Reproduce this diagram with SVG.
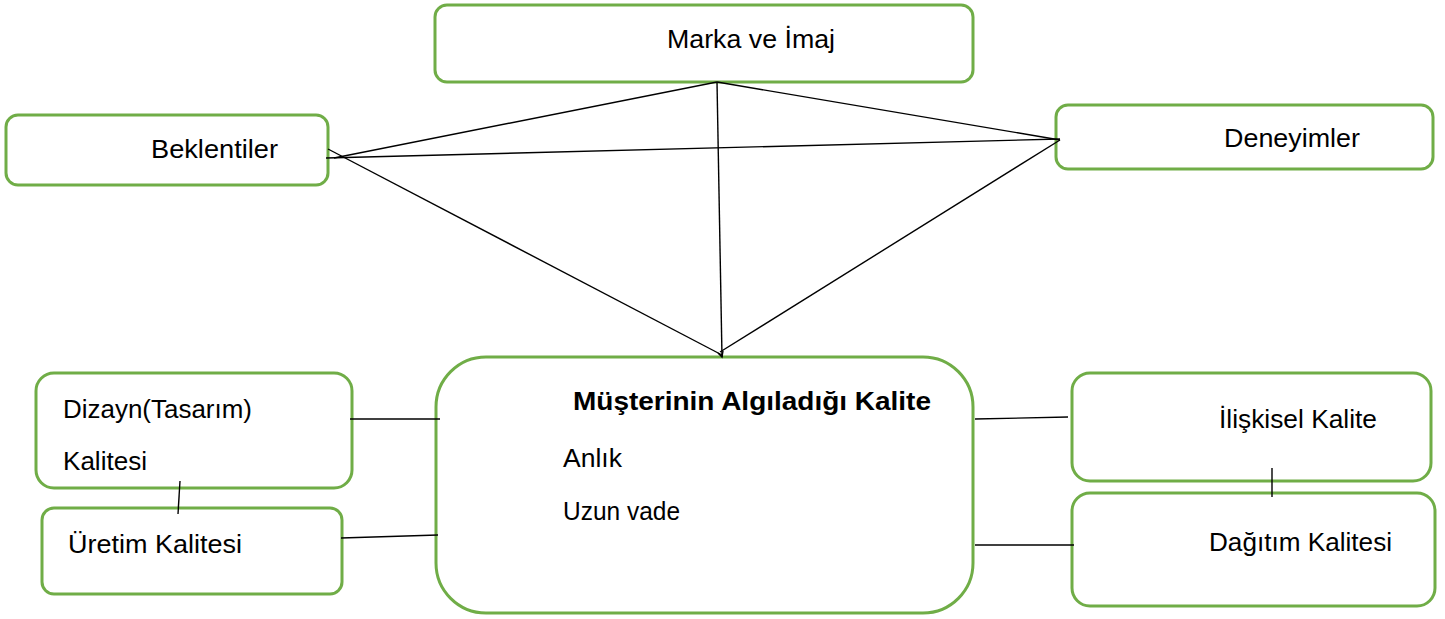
<svg xmlns="http://www.w3.org/2000/svg" width="1445" height="619" viewBox="0 0 1445 619">
  <style>
    .box { fill: #ffffff; stroke: #70AD47; stroke-width: 3; }
    .lbl { font-family: "Liberation Sans", Arial, sans-serif; font-size: 25px; fill: #000000; }
    .title { font-family: "Liberation Sans", Arial, sans-serif; font-size: 26px; font-weight: bold; fill: #000000; }
    .conn line, .conn polyline { stroke: #000000; stroke-width: 1.4; fill: none; }
  </style>
  <rect width="1445" height="619" fill="#ffffff"/>

  <g id="marka">
    <rect class="box" x="435" y="5" width="538" height="77" rx="12"/>
    <text class="lbl" x="667" y="48" textLength="168" lengthAdjust="spacingAndGlyphs">Marka ve İmaj</text>
  </g>

  <g id="beklentiler">
    <rect class="box" x="6" y="115" width="322" height="70" rx="12"/>
    <text class="lbl" x="151" y="158" textLength="127" lengthAdjust="spacingAndGlyphs">Beklentiler</text>
  </g>

  <g id="deneyimler">
    <rect class="box" x="1056" y="105" width="377" height="64" rx="12"/>
    <text class="lbl" x="1224" y="147" textLength="136" lengthAdjust="spacingAndGlyphs">Deneyimler</text>
  </g>

  <g id="musteri">
    <rect class="box" x="436" y="357" width="537" height="256" rx="50"/>
    <text class="title" x="573" y="410" textLength="358" lengthAdjust="spacingAndGlyphs">Müşterinin Algıladığı Kalite</text>
    <text class="lbl" x="563" y="467" textLength="59" lengthAdjust="spacingAndGlyphs">Anlık</text>
    <text class="lbl" x="563" y="520" textLength="117" lengthAdjust="spacingAndGlyphs">Uzun vade</text>
  </g>

  <g id="dizayn">
    <rect class="box" x="36" y="373" width="316" height="115" rx="18"/>
    <text class="lbl" x="63" y="418" textLength="189" lengthAdjust="spacingAndGlyphs">Dizayn(Tasarım)</text>
    <text class="lbl" x="63" y="470" textLength="84" lengthAdjust="spacingAndGlyphs">Kalitesi</text>
  </g>

  <g id="uretim">
    <rect class="box" x="42" y="508" width="300" height="86" rx="12"/>
    <text class="lbl" x="68" y="553" textLength="174" lengthAdjust="spacingAndGlyphs">Üretim Kalitesi</text>
  </g>

  <g id="iliskisel">
    <rect class="box" x="1072" y="373" width="359" height="108" rx="18"/>
    <text class="lbl" x="1219" y="428" textLength="158" lengthAdjust="spacingAndGlyphs">İlişkisel Kalite</text>
  </g>

  <g id="dagitim">
    <rect class="box" x="1072" y="493" width="363" height="113" rx="18"/>
    <text class="lbl" x="1209" y="551" textLength="183" lengthAdjust="spacingAndGlyphs">Dağıtım Kalitesi</text>
  </g>

  <!-- connectors, drawn over the box outlines -->
  <g id="connectors" class="conn">
    <line x1="717" y1="82" x2="334" y2="158"/>
    <line x1="717" y1="82" x2="1060" y2="140"/>
    <line x1="717" y1="82" x2="722" y2="357"/>
    <line x1="328" y1="149" x2="722" y2="355"/>
    <line x1="326" y1="158" x2="1060" y2="139"/>
    <line x1="1060" y1="140" x2="720" y2="352"/>
    <polyline points="718,353 722,357 723,351"/>
    <line x1="350" y1="419" x2="440" y2="419"/>
    <line x1="180" y1="481" x2="178" y2="514"/>
    <line x1="341" y1="538" x2="438" y2="535"/>
    <line x1="975" y1="419" x2="1068" y2="417"/>
    <line x1="1272" y1="468" x2="1272" y2="497"/>
    <line x1="975" y1="545" x2="1074" y2="545"/>
  </g>
</svg>
